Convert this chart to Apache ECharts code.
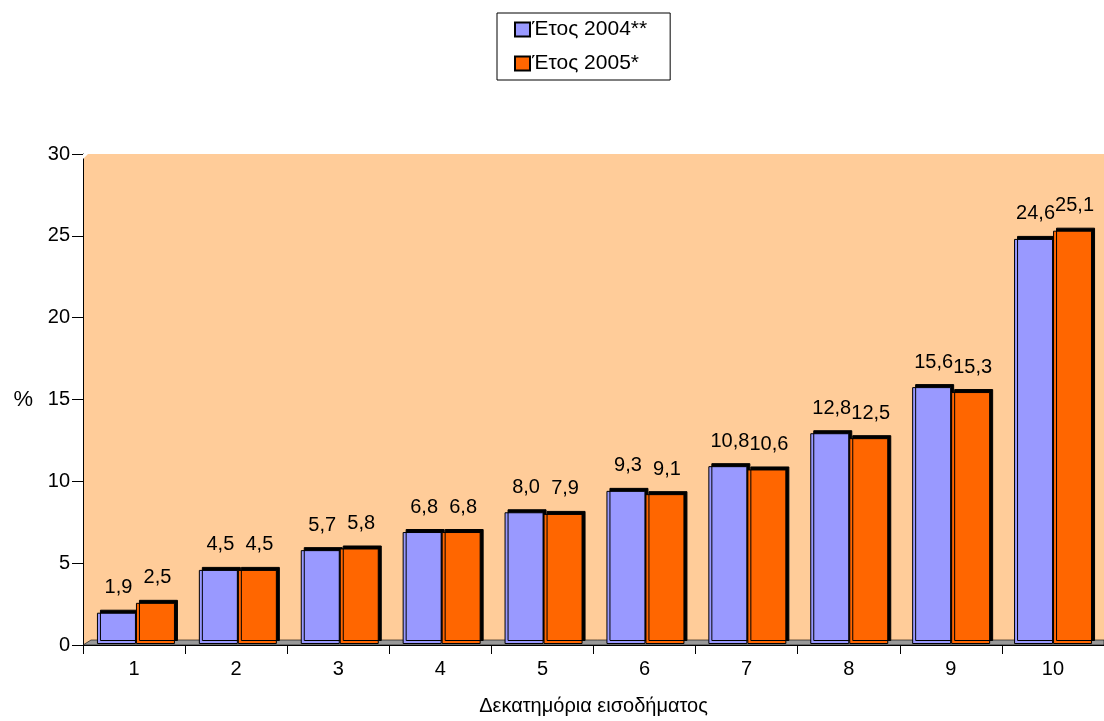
<!DOCTYPE html>
<html><head><meta charset="utf-8">
<script src="https://cdn.jsdelivr.net/npm/echarts@6/dist/echarts.min.js"></script>
<style>html,body{margin:0;padding:0;background:#fff}#c{width:1104px;height:721px}</style>
</head><body><div id="c"></div>
<script>
const categories = ['1','2','3','4','5','6','7','8','9','10'];
const series2004 = [1.9,4.5,5.7,6.8,8.0,9.3,10.8,12.8,15.6,24.6];
const series2005 = [2.5,4.5,5.8,6.8,7.9,9.1,10.6,12.5,15.3,25.1];
const names = ['Έτος 2004**','Έτος 2005*'];
const yTicks = [0,5,10,15,20,25,30];

const chart = echarts.init(document.getElementById('c'));
const font = 'Liberation Sans, Arial, sans-serif';
function barSeries(name, data, color){
  return {
    name, type:'bar', data, xAxisIndex:1, yAxisIndex:1,
    barWidth: 39, barGap: '0%', z:3,
    itemStyle:{color, borderColor:'#000', borderWidth:1,
      shadowColor:'#000', shadowBlur:0, shadowOffsetX:3, shadowOffsetY:-3},
    label:{show:true, position:'top', distance:15, offset:[2,0], color:'#000', fontSize:20, fontFamily:font,
      formatter:p=>p.value.toFixed(1).replace('.',',')}
  };
}
chart.setOption({
  animation:false,
  textStyle:{fontFamily:font},
  legend:{orient:'vertical', left:497, top:13, padding:[6,23,6,17], itemGap:13,
    borderColor:'#000', borderWidth:1, backgroundColor:'#fff',
    itemWidth:15, itemHeight:14, icon:'rect',
    itemStyle:{borderColor:'#000', borderWidth:2},
    textStyle:{fontSize:21, color:'#000', fontFamily:font, padding:[0,0,0,-3]},
    data:names},
  grid:[
    {left:83, right:-1, top:154, bottom:73, show:true, backgroundColor:'#FFCC99', borderWidth:0},
    {left:85, right:-3, top:150, bottom:77, show:false}
  ],
  xAxis:[
    {type:'category', data:categories, gridIndex:0,
    name:'Δεκατημόρια εισοδήματος', nameLocation:'middle', nameGap:51,
    nameTextStyle:{fontSize:20, color:'#000', fontFamily:font},
    axisLine:{lineStyle:{color:'#000'}},
    axisTick:{show:true, length:9, lineStyle:{color:'#000'}},
    axisLabel:{fontSize:20, color:'#000', margin:14, fontFamily:font}},
    {type:'category', data:categories, gridIndex:1, show:false}
  ],
  yAxis:[
    {type:'value', min:0, max:30, interval:5, gridIndex:0,
    name:'%', nameLocation:'middle', nameRotate:0, nameGap:50,
    nameTextStyle:{fontSize:22, color:'#000', fontFamily:font},
    axisLine:{show:true, lineStyle:{color:'#000'}},
    axisTick:{show:true, length:11, lineStyle:{color:'#000'}},
    splitLine:{show:false},
    axisLabel:{fontSize:20, color:'#000', margin:13, fontFamily:font,
      formatter:v=>yTicks.includes(v)?String(v):''}},
    {type:'value', min:0, max:30, interval:5, gridIndex:1, show:false, splitLine:{show:false}}
  ],
  series:[barSeries(names[0], series2004, '#9999FF'), barSeries(names[1], series2005, '#FF6600')]
});
// floor band (gray) drawn from axis scale
const p0 = chart.convertToPixel({xAxisIndex:0, yAxisIndex:0}, [0,0]);
const p1 = chart.convertToPixel({xAxisIndex:1, yAxisIndex:1}, [0,0]);
const grid = chart.getModel().getComponent('grid',0).coordinateSystem.getRect();
chart.setOption({graphic:[
  {type:'polygon', z:1, silent:true,
   shape:{points:[[grid.x, p0[1]],[grid.x+8, p1[1]-4],[grid.x+grid.width, p1[1]-4],[grid.x+grid.width, p0[1]]]},
   style:{fill:'#999999', stroke:'#000', lineWidth:0.6}},
  {type:'polygon', z:1, silent:true,
   shape:{points:[[grid.x, grid.y+5],[grid.x+5, grid.y],[grid.x, grid.y]]},
   style:{fill:'#fff'}}
]});
</script></body></html>
